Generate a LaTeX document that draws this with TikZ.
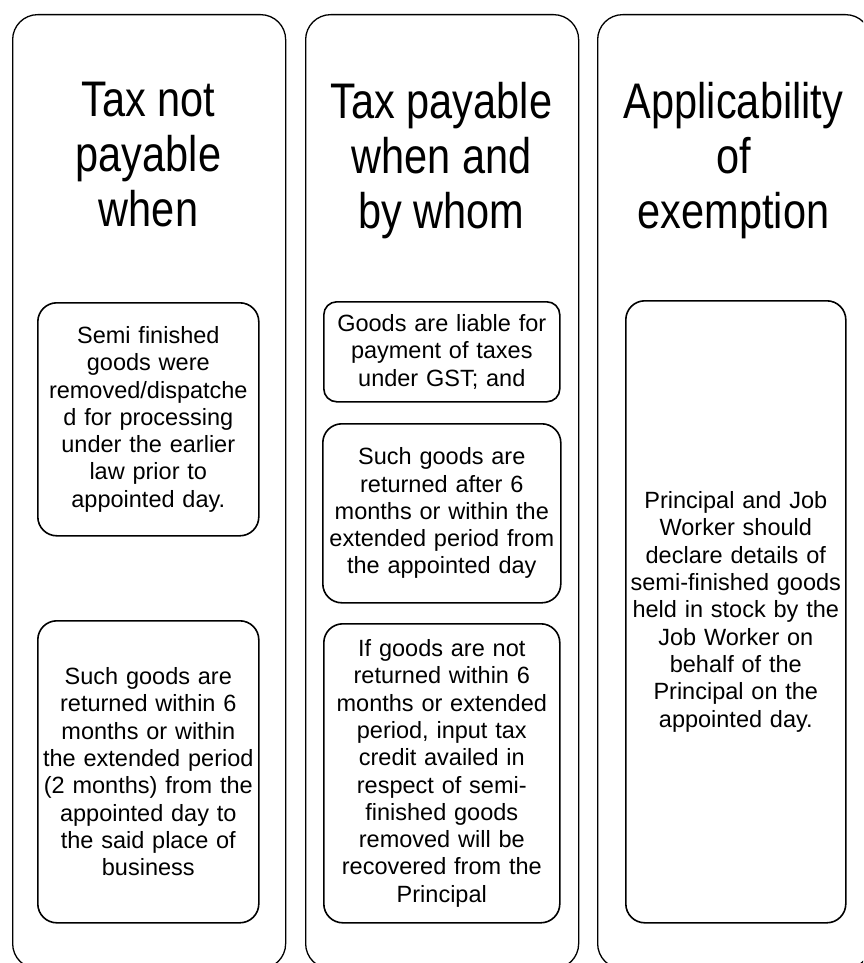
\documentclass[tikz,border=0pt]{standalone}
\usepackage{fontspec}
\setmainfont{Liberation Sans}
\newfontfamily\titlefont[FakeStretch=0.83]{Liberation Sans}
\begin{document}
\begin{tikzpicture}[x=1pt,y=-1pt,
  col/.style={draw, line width=1.3pt, rounded corners=25pt, minimum width=273pt, minimum height=954pt, anchor=north west, inner sep=0pt},
  box/.style={draw, line width=1.6pt, rounded corners=19pt, anchor=north west, inner sep=0pt, align=center, font=\fontsize{23.5}{27.3}\selectfont},
  ttl/.style={anchor=north, inner sep=0pt, align=center, font=\titlefont\fontsize{50}{55}\selectfont}]
\clip (0,0) rectangle (863,963);
\node[col] (c1) at (12,14) {};
\node[col] (c2) at (305,14) {};
\node[col] (c3) at (597,14) {};
\node[ttl] (t1) at (148.5,82) {Tax not\\payable\\when};
\node[ttl] (t2) at (441.5,82) {Tax payable\\when and\\by whom};
\node[ttl] (t3) at (733.5,82) {Applicability\\of\\exemption};
\node[box, minimum width=221pt, minimum height=233pt, text width=217pt] (a1) at (37,302)
  {Semi finished\\goods were\\removed/dispatche\\d for processing\\under the earlier\\law prior to\\appointed day.};
\node[box, minimum width=221pt, minimum height=302pt, text width=217pt] (a2) at (37,620)
  {Such goods are\\returned within 6\\months or within\\the extended period\\(2 months) from the\\appointed day to\\the said place of\\business};
\node[box, rounded corners=13pt, minimum width=236pt, minimum height=100pt, text width=232pt] (b1) at (323,301)
  {Goods are liable for\\payment of taxes\\under GST; and};
\node[box, minimum width=238pt, minimum height=179pt, text width=234pt] (b2) at (322,423)
  {Such goods are\\returned after 6\\months or within the\\extended period from\\the appointed day};
\node[box, minimum width=236pt, minimum height=299pt, text width=232pt] (b3) at (323,623)
  {If goods are not\\returned within 6\\months or extended\\period, input tax\\credit availed in\\respect of semi-\\finished goods\\removed will be\\recovered from the\\Principal};
\node[box, minimum width=220pt, minimum height=622pt, text width=216pt] (d1) at (625,300)
  {Principal and Job\\Worker should\\declare details of\\semi-finished goods\\held in stock by the\\Job Worker on\\behalf of the\\Principal on the\\appointed day.};
\end{tikzpicture}
\end{document}
